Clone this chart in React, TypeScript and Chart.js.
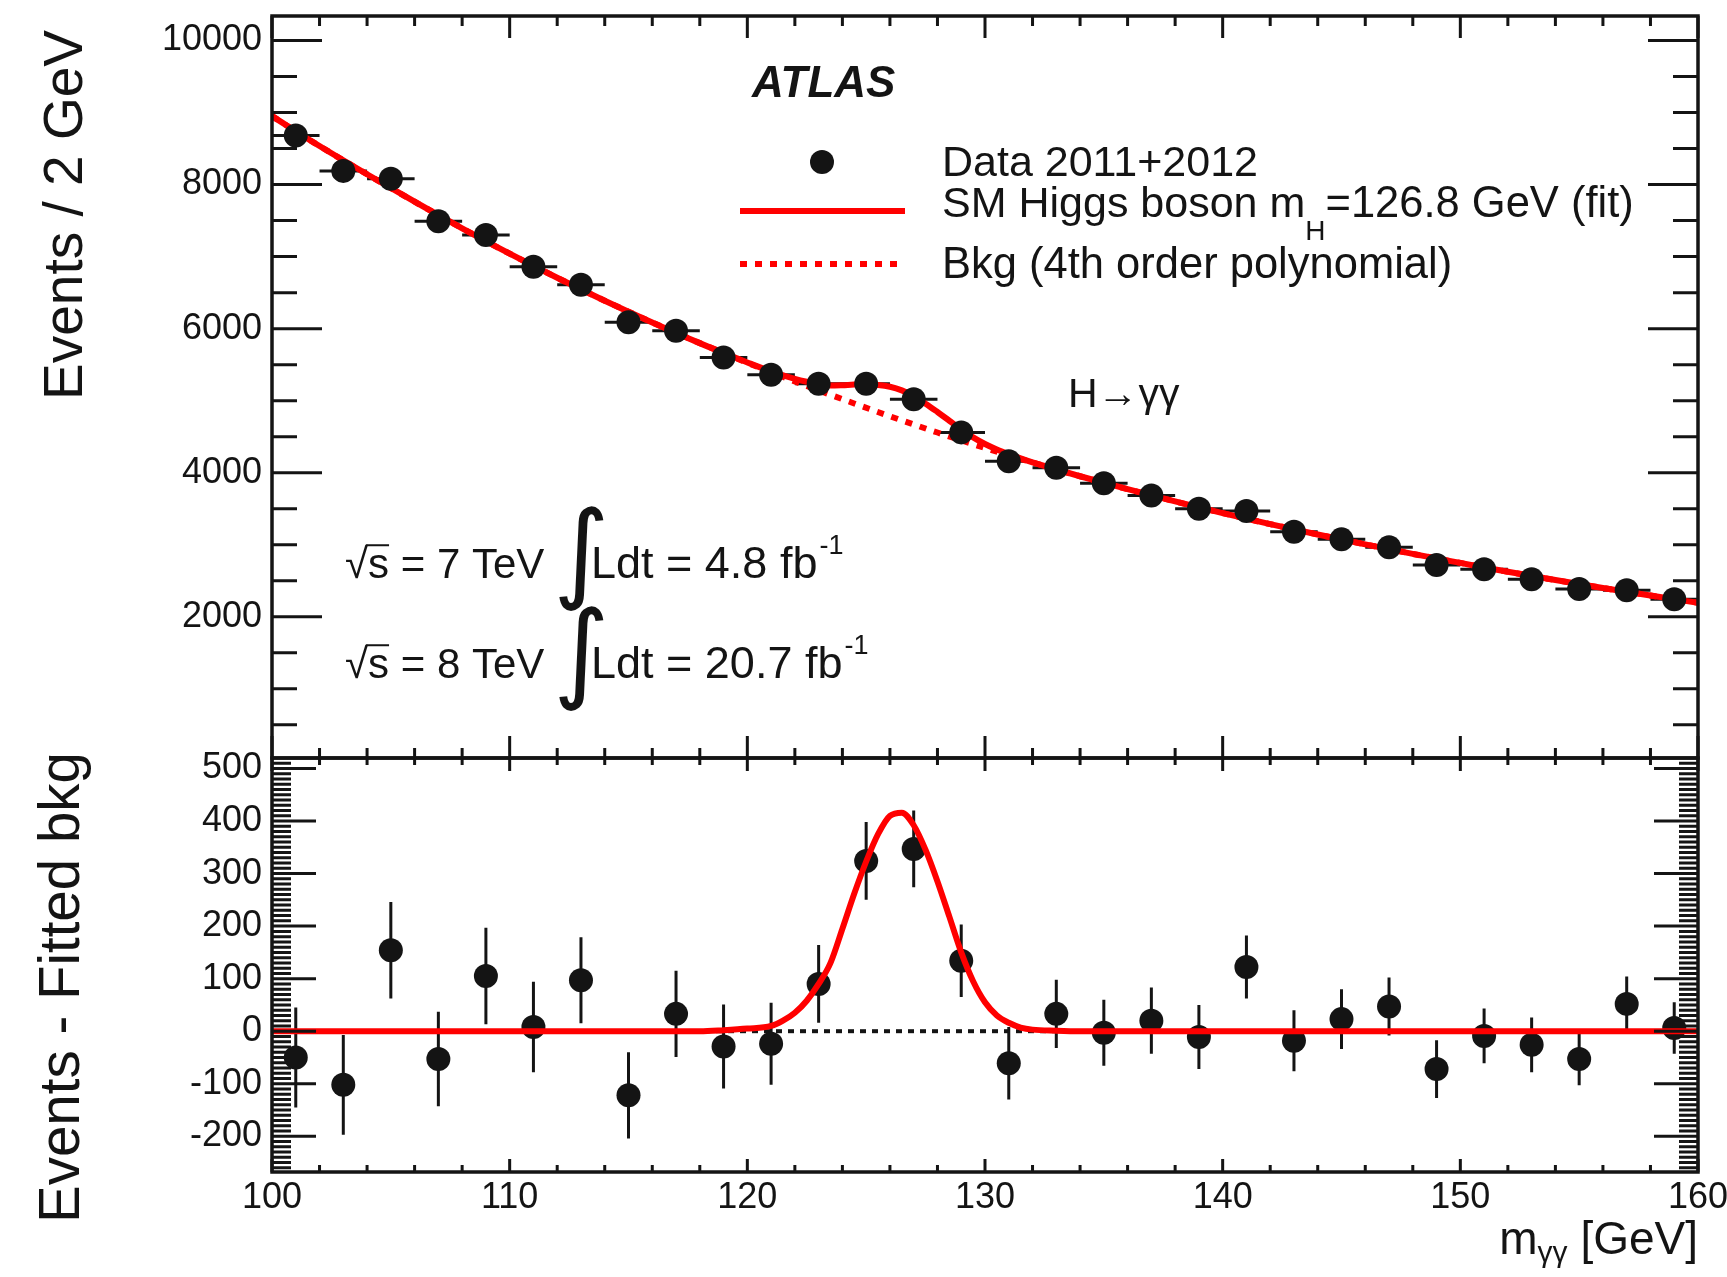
import React, { useEffect, useRef } from "react";
import { Chart, registerables } from "chart.js";

Chart.register(...registerables);

// ---------------- data ----------------
const binCenters = [101, 103, 105, 107, 109, 111, 113, 115, 117, 119, 121, 123, 125, 127, 129, 131, 133, 135, 137, 139, 141, 143, 145, 147, 149, 151, 153, 155, 157, 159];
const dataEvents = [8680, 8190, 8080, 7490, 7300, 6860, 6610, 6090, 5970, 5600, 5360, 5235, 5235, 5020, 4560, 4160, 4070, 3855, 3685, 3500, 3470, 3180, 3075, 2965, 2720, 2660, 2520, 2385, 2370, 2245];
const dataErrors = [95, 95, 92, 90, 92, 86, 82, 82, 82, 80, 78, 74, 74, 73, 69, 69, 65, 63, 63, 61, 60, 58, 57, 55, 55, 52, 52, 50, 52, 49];
const residuals = [-50, -102, 154, -53, 105, 8, 97, -122, 33, -29, -24, 90, 324, 347, 134, -61, 33, -3, 20, -11, 122, -18, 23, 47, -72, -9, -26, -53, 52, 6];
const binHalfWidth = 1; // Events / 2 GeV

const bkgMass = [100, 102, 104, 106, 108, 110, 112, 114, 116, 118, 120, 122, 124, 126, 128, 130, 132, 134, 136, 138, 140, 142, 144, 146, 148, 150, 152, 154, 156, 158, 160];
const bkgEvents = [8950, 8535, 8143, 7762, 7393, 7041, 6706, 6388, 6086, 5799, 5526, 5267, 5021, 4784, 4558, 4344, 4142, 3951, 3771, 3601, 3439, 3286, 3142, 3005, 2873, 2748, 2625, 2510, 2400, 2295, 2195];

const sbMass = [100, 102, 104, 106, 108, 110, 112, 114, 116, 118, 119, 120, 121, 122, 122.5, 123, 123.5, 124, 124.5, 125, 125.5, 126, 126.5, 127, 127.5, 128, 128.5, 129, 129.5, 130, 130.5, 131, 131.5, 132, 133, 134, 136, 138, 140, 142, 144, 146, 148, 150, 152, 154, 156, 158, 160];
const sbEvents = [8950, 8535, 8143, 7762, 7393, 7041, 6706, 6388, 6086, 5799, 5664, 5531, 5406, 5302, 5263, 5234, 5212, 5216, 5223, 5225, 5218, 5194, 5143, 5062, 4959, 4843, 4722, 4600, 4491, 4399, 4323, 4258, 4199, 4145, 4046, 3951, 3771, 3601, 3439, 3286, 3142, 3005, 2873, 2748, 2625, 2510, 2400, 2295, 2195];

const sigMass = [100, 110, 118, 119, 120, 121, 121.5, 122, 122.5, 123, 123.5, 124, 124.5, 125, 125.5, 126, 126.5, 127, 127.5, 128, 128.5, 129, 129.5, 130, 130.5, 131, 131.5, 132, 133, 134, 140, 150, 160];
const sigEvents = [0, 0, 0, 2, 5, 10, 20, 35, 58, 90, 130, 195, 262, 323, 375, 410, 416, 392, 345, 285, 218, 150, 95, 55, 30, 16, 7, 3, 1, 0, 0, 0, 0];

const zeroMass = [100, 160];
const zeroLine = [0, 0];

const xTicks = [100, 110, 120, 130, 140, 150, 160];
const topYTicks = [2000, 4000, 6000, 8000, 10000];
const bottomYTicks = [-200, -100, 0, 100, 200, 300, 400, 500];

// ---------------- styling ----------------
const FONT = '"Liberation Sans", Arial, Helvetica, sans-serif';
const INK = "#141414";
const RED = "#ff0000";

const pts = (xs: number[], ys: number[]) => xs.map((x, i) => ({ x, y: ys[i] }));

function steps(a: number, b: number, s: number) {
  const out: number[] = [];
  for (let v = a; v <= b + 1e-9; v += s) out.push(Math.round(v * 1000) / 1000);
  return out;
}

function noScalePadding(s: any) {
  s.paddingTop = 0;
  s.paddingBottom = 0;
  s.paddingLeft = 0;
  s.paddingRight = 0;
}

type Spec = {
  xMinorStep: number; xMajorStep: number; xMajorLen: number; xMinorLen: number;
  yMinorFrom: number; yMinorTo: number; yMinorStep: number; yMajorStep: number; yMajorLen: number; yMinorLen: number;
};

function drawFrame(chart: any, spec: Spec) {
  const { ctx, chartArea: a } = chart;
  const xs = chart.scales.x;
  const ys = chart.scales.y;
  ctx.save();
  ctx.strokeStyle = INK;
  ctx.lineCap = "butt";
  ctx.lineWidth = 3;
  ctx.beginPath();
  for (const v of steps(100, 160, spec.xMinorStep)) {
    const p = xs.getPixelForValue(v);
    const major = Math.abs(v / spec.xMajorStep - Math.round(v / spec.xMajorStep)) < 1e-6;
    const len = major ? spec.xMajorLen : spec.xMinorLen;
    ctx.moveTo(p, a.bottom);
    ctx.lineTo(p, a.bottom - len);
    ctx.moveTo(p, a.top);
    ctx.lineTo(p, a.top + len);
  }
  ctx.stroke();
  ctx.beginPath();
  for (const v of steps(spec.yMinorFrom, spec.yMinorTo, spec.yMinorStep)) {
    const p = ys.getPixelForValue(v);
    const major = Math.abs(v / spec.yMajorStep - Math.round(v / spec.yMajorStep)) < 1e-6;
    const len = major ? spec.yMajorLen : spec.yMinorLen;
    ctx.moveTo(a.left, p);
    ctx.lineTo(a.left + len, p);
    ctx.moveTo(a.right, p);
    ctx.lineTo(a.right - len, p);
  }
  ctx.stroke();
  ctx.lineWidth = 3.5;
  ctx.strokeRect(a.left, a.top, a.right - a.left, a.bottom - a.top);
  ctx.restore();
}

type Part = { text: string; size: number; dy?: number; style?: string };

function partFont(p: Part) {
  return `${p.style ? p.style + " " : ""}${p.size}px ${FONT}`;
}

function richWidth(ctx: CanvasRenderingContext2D, parts: Part[]) {
  let w = 0;
  for (const p of parts) {
    ctx.font = partFont(p);
    w += ctx.measureText(p.text).width;
  }
  return w;
}

function drawRich(ctx: CanvasRenderingContext2D, x: number, y: number, parts: Part[]) {
  let cx = x;
  for (const p of parts) {
    ctx.font = partFont(p);
    ctx.fillText(p.text, cx, y + (p.dy || 0));
    cx += ctx.measureText(p.text).width;
  }
  return cx;
}

function drawVerticalTitle(ctx: CanvasRenderingContext2D, text: string, baselineX: number, topY: number, size: number) {
  ctx.save();
  ctx.translate(baselineX, topY);
  ctx.rotate(-Math.PI / 2);
  ctx.font = `${size}px ${FONT}`;
  ctx.textAlign = "right";
  ctx.textBaseline = "alphabetic";
  ctx.fillStyle = INK;
  ctx.fillText(text, 0, 0);
  ctx.restore();
}

function drawSqrtLine(ctx: CanvasRenderingContext2D, x: number, y: number, energy: string, lumi: string) {
  const size = 42;
  ctx.font = `${size}px ${FONT}`;
  const wRad = ctx.measureText("√").width;
  const wS = ctx.measureText("s").width;
  ctx.fillText("√", x, y);
  ctx.fillText("s", x + wRad, y);
  ctx.save();
  ctx.strokeStyle = INK;
  ctx.lineWidth = 2;
  ctx.beginPath();
  ctx.moveTo(x + wRad - 2, y - size * 0.78);
  ctx.lineTo(x + wRad + wS, y - size * 0.78);
  ctx.stroke();
  ctx.restore();
  ctx.fillText(` = ${energy} TeV`, x + wRad + wS, y);
  // integral sign
  ctx.save();
  ctx.font = `108px "DejaVu Sans", ${FONT}`;
  ctx.textBaseline = "middle";
  ctx.fillText("∫", 553, y - 18);
  ctx.restore();
  const end = drawRich(ctx, 591, y, [{ text: `Ldt = ${lumi} fb`, size: 45 }]);
  drawRich(ctx, end + 2, y - 24, [{ text: "-1", size: 27 }]);
}

const topPlugin = {
  id: "topDecor",
  beforeDatasetsDraw(chart: any) {
    const { ctx } = chart;
    const xs = chart.scales.x;
    const ys = chart.scales.y;
    ctx.save();
    ctx.strokeStyle = INK;
    ctx.lineWidth = 3;
    ctx.beginPath();
    binCenters.forEach((m, i) => {
      const px = xs.getPixelForValue(m);
      const py = ys.getPixelForValue(dataEvents[i]);
      ctx.moveTo(xs.getPixelForValue(m - binHalfWidth), py);
      ctx.lineTo(xs.getPixelForValue(m + binHalfWidth), py);
      ctx.moveTo(px, ys.getPixelForValue(dataEvents[i] - dataErrors[i]));
      ctx.lineTo(px, ys.getPixelForValue(dataEvents[i] + dataErrors[i]));
    });
    ctx.stroke();
    ctx.restore();
  },
  afterDraw(chart: any) {
    drawFrame(chart, {
      xMinorStep: 2, xMajorStep: 10, xMajorLen: 22, xMinorLen: 10,
      yMinorFrom: 500, yMinorTo: 10000, yMinorStep: 500, yMajorStep: 2000, yMajorLen: 50, yMinorLen: 25,
    });
    const ctx: CanvasRenderingContext2D = chart.ctx;
    ctx.save();
    ctx.fillStyle = INK;
    ctx.textAlign = "left";
    ctx.textBaseline = "alphabetic";
    // ATLAS label
    ctx.font = `italic bold 44px ${FONT}`;
    ctx.fillText("ATLAS", 752, 97);
    // legend
    ctx.beginPath();
    ctx.arc(822, 162, 12, 0, Math.PI * 2);
    ctx.fill();
    ctx.strokeStyle = RED;
    ctx.lineWidth = 6;
    ctx.beginPath();
    ctx.moveTo(740, 211);
    ctx.lineTo(905, 211);
    ctx.stroke();
    ctx.setLineDash([7, 8]);
    ctx.beginPath();
    ctx.moveTo(740, 264);
    ctx.lineTo(905, 264);
    ctx.stroke();
    ctx.setLineDash([]);
    drawRich(ctx, 942, 176, [{ text: "Data 2011+2012", size: 43 }]);
    drawRich(ctx, 942, 217, [
      { text: "SM Higgs boson m", size: 43 },
      { text: "H", size: 28, dy: 23 },
      { text: "=126.8 GeV (fit)", size: 43.5 },
    ]);
    drawRich(ctx, 942, 278, [{ text: "Bkg (4th order polynomial)", size: 43.5 }]);
    // channel
    drawRich(ctx, 1068, 407, [{ text: "H→γγ", size: 41 }]);
    // luminosity
    drawSqrtLine(ctx, 345, 578, "7", "4.8");
    drawSqrtLine(ctx, 345, 678, "8", "20.7");
    ctx.restore();
    drawVerticalTitle(ctx, "Events / 2 GeV", 82, 30, 55);
  },
};

const bottomPlugin = {
  id: "bottomDecor",
  beforeDatasetsDraw(chart: any) {
    const { ctx } = chart;
    const xs = chart.scales.x;
    const ys = chart.scales.y;
    ctx.save();
    ctx.strokeStyle = INK;
    ctx.lineWidth = 3;
    ctx.beginPath();
    binCenters.forEach((m, i) => {
      const px = xs.getPixelForValue(m);
      ctx.moveTo(px, ys.getPixelForValue(residuals[i] - dataErrors[i]));
      ctx.lineTo(px, ys.getPixelForValue(residuals[i] + dataErrors[i]));
    });
    ctx.stroke();
    ctx.restore();
  },
  afterDraw(chart: any) {
    drawFrame(chart, {
      xMinorStep: 2, xMajorStep: 10, xMajorLen: 13, xMinorLen: 7,
      yMinorFrom: -260, yMinorTo: 510, yMinorStep: 10, yMajorStep: 100, yMajorLen: 44, yMinorLen: 19,
    });
    const ctx: CanvasRenderingContext2D = chart.ctx;
    ctx.save();
    ctx.fillStyle = INK;
    ctx.textAlign = "left";
    ctx.textBaseline = "alphabetic";
    const parts: Part[] = [
      { text: "m", size: 46 },
      { text: "γγ", size: 30, dy: 8 },
      { text: " [GeV]", size: 46 },
    ];
    const w = richWidth(ctx, parts);
    drawRich(ctx, chart.chartArea.right - w, 524, parts);
    ctx.restore();
    drawVerticalTitle(ctx, "Events - Fitted bkg", 79, 22, 56.5);
  },
};

const tickFont = { family: FONT, size: 36 };
const plainLabel = (v: any) => String(v);

function topConfig(): any {
  return {
    type: "line",
    data: {
      datasets: [
        {
          label: "Data 2011+2012",
          data: pts(binCenters, dataEvents),
          showLine: false,
          pointRadius: 12,
          pointBackgroundColor: INK,
          pointBorderWidth: 0,
          order: 0,
        },
        {
          label: "SM Higgs boson fit",
          data: pts(sbMass, sbEvents),
          borderColor: RED,
          borderWidth: 6,
          pointRadius: 0,
          fill: false,
          cubicInterpolationMode: "monotone",
          order: 1,
        },
        {
          label: "Bkg (4th order polynomial)",
          data: pts(bkgMass, bkgEvents),
          borderColor: RED,
          borderWidth: 6,
          borderDash: [7, 8],
          pointRadius: 0,
          fill: false,
          cubicInterpolationMode: "monotone",
          order: 2,
        },
      ],
    },
    options: {
      animation: false,
      responsive: false,
      maintainAspectRatio: false,
      events: [],
      layout: { padding: { left: 0, right: 29, top: 16, bottom: 22 } },
      plugins: { legend: { display: false }, tooltip: { enabled: false } },
      scales: {
        x: { type: "linear", min: 100, max: 160, display: false },
        y: {
          type: "linear",
          min: 40,
          max: 10340,
          afterFit: (s: any) => { s.width = 272; noScalePadding(s); },
          afterBuildTicks: (s: any) => { s.ticks = topYTicks.map((v) => ({ value: v })); },
          grid: { display: false, drawTicks: false },
          border: { display: false },
          ticks: { font: tickFont, color: INK, padding: 10, callback: plainLabel },
        },
      },
    },
    plugins: [topPlugin],
  };
}

function bottomConfig(): any {
  return {
    type: "line",
    data: {
      datasets: [
        {
          label: "Signal fit",
          data: pts(sigMass, sigEvents),
          borderColor: RED,
          borderWidth: 6,
          pointRadius: 0,
          fill: false,
          cubicInterpolationMode: "monotone",
          order: 0,
        },
        {
          label: "Data - bkg",
          data: pts(binCenters, residuals),
          showLine: false,
          pointRadius: 12,
          pointBackgroundColor: INK,
          pointBorderWidth: 0,
          order: 1,
        },
        {
          label: "Bkg",
          data: pts(zeroMass, zeroLine),
          borderColor: INK,
          borderWidth: 4,
          borderDash: [6, 6],
          pointRadius: 0,
          fill: false,
          order: 2,
        },
      ],
    },
    options: {
      animation: false,
      responsive: false,
      maintainAspectRatio: false,
      events: [],
      layout: { padding: { left: 0, right: 29, top: 28, bottom: 45 } },
      plugins: { legend: { display: false }, tooltip: { enabled: false } },
      scales: {
        x: {
          type: "linear",
          min: 100,
          max: 160,
          afterFit: (s: any) => { s.height = 60; noScalePadding(s); },
          afterBuildTicks: (s: any) => { s.ticks = xTicks.map((v) => ({ value: v })); },
          grid: { display: false, drawTicks: false },
          border: { display: false },
          ticks: { font: tickFont, color: INK, padding: 4, autoSkip: false, maxRotation: 0, callback: plainLabel },
        },
        y: {
          type: "linear",
          min: -268,
          max: 520,
          afterFit: (s: any) => { s.width = 272; noScalePadding(s); },
          afterBuildTicks: (s: any) => { s.ticks = bottomYTicks.map((v) => ({ value: v })); },
          grid: { display: false, drawTicks: false },
          border: { display: false },
          ticks: { font: tickFont, color: INK, padding: 10, callback: plainLabel },
        },
      },
    },
    plugins: [bottomPlugin],
  };
}

export default function App() {
  const topRef = useRef<HTMLCanvasElement>(null);
  const botRef = useRef<HTMLCanvasElement>(null);

  useEffect(() => {
    const c1 = new Chart(topRef.current as HTMLCanvasElement, topConfig());
    const c2 = new Chart(botRef.current as HTMLCanvasElement, bottomConfig());
    return () => {
      c1.destroy();
      c2.destroy();
    };
  }, []);

  return (
    <div style={{ position: "fixed", left: 0, top: 0, width: 1727, height: 1277, background: "#ffffff", overflow: "hidden" }}>
      <canvas ref={topRef} width={1727} height={780} style={{ position: "absolute", left: 0, top: 0, width: 1727, height: 780 }} />
      <canvas ref={botRef} width={1727} height={547} style={{ position: "absolute", left: 0, top: 730, width: 1727, height: 547 }} />
    </div>
  );
}
